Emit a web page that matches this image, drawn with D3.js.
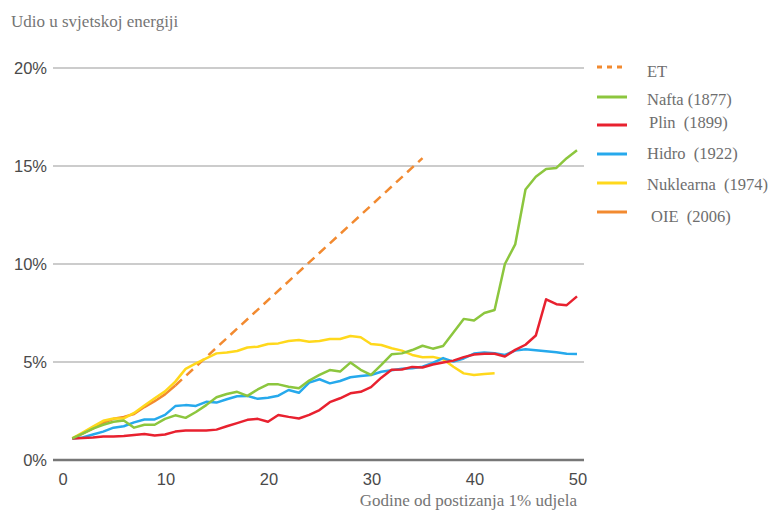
<!DOCTYPE html>
<html>
<head>
<meta charset="utf-8">
<script src="https://cdn.jsdelivr.net/npm/d3@7"></script>
<style>
  body { margin: 0; background: #fff; }
  svg text { white-space: pre; }
</style>
</head>
<body>
<div id="chart"></div>
<script>
var width = 772,
    height = 523;

// podaci - udio u svjetskoj energiji (%) po godinama od postizanja 1%
var years = d3.range(1, 51);
var nafta = [1.1, 1.35, 1.6, 1.8, 1.95, 2.02, 1.65, 1.8, 1.8, 2.1,
             2.28, 2.15, 2.45, 2.8, 3.2, 3.37, 3.48, 3.27, 3.6, 3.86,
             3.86, 3.74, 3.66, 4.05, 4.34, 4.59, 4.51, 4.97, 4.6, 4.34,
             4.85, 5.39, 5.44, 5.61, 5.83, 5.68, 5.82, 6.5, 7.2, 7.12,
             7.5, 7.65, 10.0, 11.0, 13.8, 14.45, 14.85, 14.9, 15.4, 15.8];
var plin = [1.1, 1.12, 1.15, 1.2, 1.2, 1.22, 1.28, 1.33, 1.25, 1.3,
            1.45, 1.5, 1.5, 1.5, 1.55, 1.72, 1.88, 2.05, 2.1, 1.95,
            2.3, 2.2, 2.12, 2.3, 2.55, 2.95, 3.15, 3.4, 3.48, 3.72,
            4.2, 4.6, 4.62, 4.75, 4.72, 4.87, 4.97, 5.07, 5.25, 5.38,
            5.42, 5.42, 5.28, 5.62, 5.88, 6.35, 8.2, 7.95, 7.9, 8.35];
var hidro = [1.1, 1.15, 1.3, 1.45, 1.65, 1.72, 1.92, 2.07, 2.07, 2.3,
             2.75, 2.8, 2.76, 2.97, 2.93, 3.1, 3.25, 3.27, 3.12, 3.18,
             3.28, 3.57, 3.43, 3.95, 4.12, 3.91, 4.03, 4.22, 4.29, 4.34,
             4.5, 4.58, 4.65, 4.68, 4.76, 4.95, 5.2, 5.02, 5.18, 5.43,
             5.48, 5.45, 5.36, 5.58, 5.65, 5.6, 5.55, 5.5, 5.42, 5.41];
var nuklearna = [1.1, 1.4, 1.7, 2.0, 2.12, 2.12, 2.4, 2.78, 3.15, 3.5,
                 4.0, 4.65, 4.93, 5.19, 5.44, 5.48, 5.56, 5.74, 5.78, 5.92,
                 5.95, 6.07, 6.12, 6.03, 6.07, 6.17, 6.17, 6.33, 6.26, 5.92,
                 5.87, 5.7, 5.58, 5.36, 5.24, 5.26, 5.14, 4.76, 4.42, 4.34,
                 4.39, 4.42];
var oie = [1.1, 1.35, 1.6, 1.9, 2.1, 2.2, 2.35, 2.7, 3.0, 3.35, 3.8];
var etYears = [11, 35];
var etValues = [3.8, 15.4];

var yTicks = [0, 5, 10, 15, 20];
var xTicks = [0, 10, 20, 30, 40, 50];

var series = [
  { name: "Nafta (1877)", values: nafta, color: "#8cc63e" },
  { name: "Plin  (1899)", values: plin, color: "#e8212f" },
  { name: "Hidro  (1922)", values: hidro, color: "#26a9ec" },
  { name: "Nuklearna  (1974)", values: nuklearna, color: "#ffd81c" },
  { name: "OIE  (2006)", values: oie, color: "#f28a30" }
];

var svg = d3.select('#chart')
    .append('svg')
    .attr('width', width)
    .attr('height', height);

var x = d3.scaleLinear().domain([0, 50]).range([62, 577]);
var y = d3.scaleLinear().domain([0, 20]).range([460, 68]);

// naslov osi y
svg.append('text')
    .attr('x', 11)
    .attr('y', 27)
    .attr('font-family', 'Liberation Serif, serif')
    .style('font-size', '17px')
    .attr('fill', '#757575')
    .text('Udio u svjetskoj energiji');

// mreza
svg.append('g')
    .selectAll('line')
    .data(yTicks.filter(d => d > 0))
    .enter()
    .append('line')
    .attr('x1', 53)
    .attr('x2', 584)
    .attr('y1', d => y(d))
    .attr('y2', d => y(d))
    .attr('stroke', '#cccccc')
    .attr('stroke-width', 2);

svg.append('line')
    .attr('x1', 53)
    .attr('x2', 584)
    .attr('y1', y(0))
    .attr('y2', y(0))
    .attr('stroke', '#777777')
    .attr('stroke-width', 2.5);

// oznake osi y
svg.append('g')
    .selectAll('text')
    .data(yTicks)
    .enter()
    .append('text')
    .attr('x', 47)
    .attr('y', d => y(d) + 6)
    .attr('text-anchor', 'end')
    .attr('font-family', 'Liberation Sans, Arial, sans-serif')
    .style('font-size', '16.5px')
    .attr('fill', '#4a4a4a')
    .text(d => d + '%');

// oznake osi x
svg.append('g')
    .selectAll('text')
    .data(xTicks)
    .enter()
    .append('text')
    .attr('x', d => x(d) + 1)
    .attr('y', 485)
    .attr('text-anchor', 'middle')
    .attr('font-family', 'Liberation Sans, Arial, sans-serif')
    .style('font-size', '16.5px')
    .attr('fill', '#4a4a4a')
    .text(d => d);

svg.append('text')
    .attr('x', 577)
    .attr('y', 506)
    .attr('text-anchor', 'end')
    .attr('font-family', 'Liberation Serif, serif')
    .style('font-size', '17px')
    .attr('fill', '#757575')
    .text('Godine od postizanja 1% udjela');

var line = d3.line()
    .x(d => x(d[0]))
    .y(d => y(d[1]));

// ET isprekidana linija
svg.append('path')
    .datum(etYears.map((d, i) => [d, etValues[i]]))
    .attr('d', line)
    .attr('fill', 'none')
    .attr('stroke', '#f28a30')
    .attr('stroke-width', 2.5)
    .attr('stroke-dasharray', '9,6');

// serije (obrnutim redom da nafta bude na vrhu)
svg.append('g')
    .selectAll('path')
    .data(series.slice().reverse())
    .enter()
    .append('path')
    .attr('d', s => line(s.values.map((v, i) => [years[i], v])))
    .attr('fill', 'none')
    .attr('stroke', s => s.color)
    .attr('stroke-width', 2.5)
    .attr('stroke-linejoin', 'round');

// legenda
var legendY = [67, 97, 125, 154, 183, 212];
var legendTextDy = [5, 3, -2, 0, 2, 5];
var legendTextX = [647, 647, 649, 647, 647, 651];
var legendItems = [{ name: "ET", color: "#f28a30", dashed: true }].concat(series);

var legend = svg.append('g');

legend.selectAll('line')
    .data(legendItems)
    .enter()
    .append('line')
    .attr('x1', 597)
    .attr('x2', 627)
    .attr('y1', (d, i) => legendY[i])
    .attr('y2', (d, i) => legendY[i])
    .attr('stroke', d => d.color)
    .attr('stroke-width', 3)
    .attr('stroke-dasharray', d => d.dashed ? '5,5' : null);

legend.selectAll('text')
    .data(legendItems)
    .enter()
    .append('text')
    .attr('x', (d, i) => legendTextX[i])
    .attr('y', (d, i) => legendY[i] + legendTextDy[i] + 5)
    .attr('font-family', 'Liberation Serif, serif')
    .style('font-size', '16.5px')
    .attr('fill', '#6e6e6e')
    .text(d => d.name);
</script>
</body>
</html>
